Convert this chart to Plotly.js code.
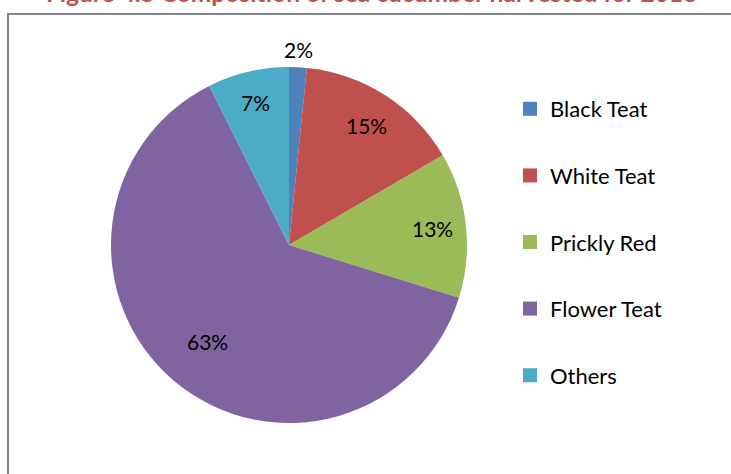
<!DOCTYPE html>
<html>
<head>
<meta charset="utf-8">
<script src="https://cdn.plot.ly/plotly-3.0.1.min.js"></script>
<style>html,body{margin:0;padding:0;background:#fff;}#chart{width:731px;height:474px;}</style>
</head>
<body>
<div id="chart"></div>
<script>
var categories = ["Black Teat", "White Teat", "Prickly Red", "Flower Teat", "Others"];
var shares = [1.6, 15.0, 13.2, 62.8, 7.4];
var colors = ["#4F81BD", "#C0504D", "#9BBB59", "#8064A2", "#4BACC6"];
var titleText = "Figure 4.5 Composition of sea cucumber harvested for 2013";

// label placement style (fraction of radius along each slice's bisector)
var labelRadius = [1.10, 0.80, 0.81, 0.71, 0.82];

var FONT = "Lato, 'Open Sans', sans-serif";
var W = 731, H = 474;
var CX = 289, CY = 245, R = 178;

var pie = {
  type: "pie",
  labels: categories,
  values: shares,
  sort: false,
  direction: "clockwise",
  rotation: 0,
  marker: {colors: colors, line: {width: 0}},
  textinfo: "none",
  hoverinfo: "label+percent",
  showlegend: false,
  domain: {x: [(CX - R) / W, (CX + R) / W], y: [1 - (CY + R) / H, 1 - (CY - R) / H]}
};

var traces = [pie];
categories.forEach(function (c, i) {
  traces.push({
    type: "scatter", mode: "markers", x: [null], y: [null],
    name: c, legendgroup: "g" + i,
    marker: {symbol: "square", size: 14, color: colors[i]},
    hoverinfo: "skip"
  });
});

// percentage labels, placed on each slice's bisector computed from the data
var total = shares.reduce(function (a, b) { return a + b; }, 0);
var annotations = [];
var cum = 0;
shares.forEach(function (v, i) {
  var mid = (cum + v / 2) / total * 2 * Math.PI;
  cum += v;
  var d = R * labelRadius[i];
  var px = CX + d * Math.sin(mid);
  var py = CY - d * Math.cos(mid);
  annotations.push({
    text: Math.round(v / total * 100) + "%",
    xref: "paper", yref: "paper", x: px / W, y: 1 - py / H,
    xanchor: "center", yanchor: "middle", showarrow: false,
    font: {family: FONT, size: 21, color: "#000"}
  });
});

annotations.push({
  text: "<b>" + titleText + "</b>", xref: "paper", yref: "paper",
  x: 371 / W, y: 1, xanchor: "center", yanchor: "bottom", yshift: -9.5,
  showarrow: false, font: {family: FONT, size: 24.5, color: "#C0504D"}
});

var layout = {
  width: W, height: H,
  margin: {l: 0, r: 0, t: 0, b: 0},
  paper_bgcolor: "#fff", plot_bgcolor: "#fff",
  xaxis: {visible: false}, yaxis: {visible: false},
  showlegend: true,
  legend: {
    x: 510 / W, y: 1 - 88 / H, xanchor: "left", yanchor: "top",
    font: {family: FONT, size: 22, color: "#000"},
    tracegroupgap: 35, itemwidth: 30,
    bgcolor: "rgba(0,0,0,0)"
  },
  shapes: [{
    type: "rect", xref: "paper", yref: "paper",
    x0: 8 / W, x1: 1.02, y0: -0.02, y1: 1 - 14 / H,
    line: {color: "#868686", width: 2}, fillcolor: "rgba(0,0,0,0)"
  }],
  annotations: annotations
};

Plotly.newPlot("chart", traces, layout, {displayModeBar: false, staticPlot: true});
</script>
</body>
</html>
